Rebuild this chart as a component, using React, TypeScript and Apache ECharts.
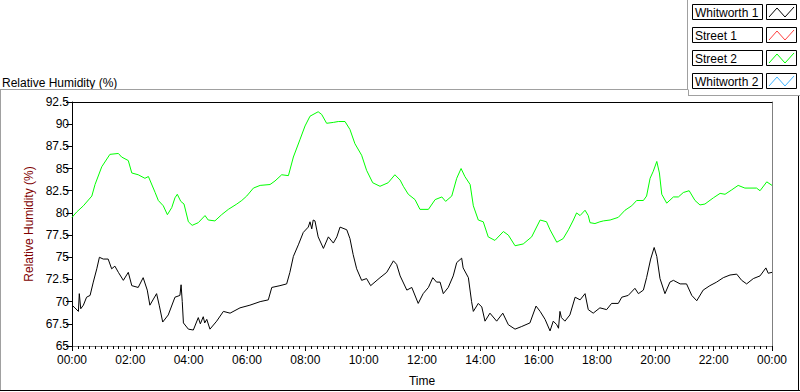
import React, { useEffect, useRef } from "react";
import * as echarts from "echarts";

// ---------- data (hour of day, relative humidity %) ----------
const seriesNames = ["Whitworth 1", "Street 1", "Street 2", "Whitworth 2"];
const seriesColors = ["#000000", "#ff4040", "#00ff00", "#40b4ff"];

const whitworth1: [number, number][] = [
  [0, 69.6], [0.1, 69.3], [0.22, 68.9], [0.25, 70.9], [0.3, 69.2], [0.39, 69.6], [0.5, 70.5],
  [0.62, 70.7], [0.73, 72.2], [0.85, 73.7], [0.94, 75.0], [1.07, 74.8], [1.24, 74.8], [1.36, 73.7],
  [1.47, 74.0], [1.59, 73.3], [1.76, 72.4], [1.93, 73.3], [2.05, 71.8], [2.27, 71.6], [2.44, 72.7],
  [2.58, 71.3], [2.67, 69.6], [2.9, 70.9], [2.99, 69.6], [3.11, 67.7], [3.3, 68.5], [3.53, 70.5],
  [3.7, 70.7], [3.74, 71.9], [3.78, 70.0], [3.82, 67.6], [3.99, 66.9], [4.16, 66.8], [4.33, 68.2],
  [4.4, 67.5], [4.5, 68.3], [4.55, 67.6],
  [4.62, 68.0], [4.73, 66.9], [4.96, 67.8], [5.19, 68.9], [5.42, 68.7], [5.76, 69.3], [6.1, 69.6],
  [6.45, 70.0], [6.73, 70.2], [6.85, 71.6], [7.13, 71.8], [7.36, 72.0], [7.47, 73.3], [7.59, 75.1],
  [7.76, 76.4], [7.93, 77.8], [8.1, 78.4], [8.16, 79.0], [8.22, 78.2], [8.27, 79.2], [8.33, 79.1], [8.44, 77.3], [8.62, 76.0],
  [8.79, 77.3], [8.96, 76.6], [9.08, 77.3], [9.19, 78.4], [9.42, 78.1], [9.53, 77.1], [9.64, 75.3],
  [9.76, 73.7], [9.93, 72.4], [10.1, 72.6], [10.24, 71.8], [10.56, 72.7], [10.79, 73.3], [11.02, 74.6],
  [11.13, 74.2], [11.25, 72.9], [11.48, 71.3], [11.65, 71.6], [11.87, 69.8], [12.04, 70.9], [12.22, 71.6],
  [12.37, 72.7], [12.5, 72.2], [12.62, 72.2], [12.73, 70.9], [12.9, 71.6], [13.07, 72.9], [13.19, 74.4],
  [13.36, 74.9], [13.41, 73.8], [13.59, 72.7], [13.7, 70.0], [13.76, 68.9], [13.93, 69.8], [14.05, 69.4],
  [14.16, 67.8], [14.33, 68.7], [14.56, 67.8], [14.77, 68.7], [14.96, 67.4], [15.19, 66.9], [15.42, 67.2],
  [15.7, 67.6], [15.91, 69.5], [16.05, 68.9], [16.22, 68.0], [16.39, 66.7], [16.5, 67.8], [16.62, 67.4],
  [16.68, 67.0], [16.73, 68.9], [16.78, 68.2], [16.9, 67.8], [17.07, 68.5], [17.25, 70.5], [17.42, 70.2], [17.59, 70.9], [17.7, 69.1],
  [17.87, 68.7], [18.1, 69.3], [18.33, 69.1], [18.5, 69.8], [18.73, 69.8], [18.85, 70.5], [19.07, 70.7],
  [19.3, 71.5], [19.42, 70.9], [19.59, 71.3], [19.7, 72.7], [19.84, 74.8], [19.96, 76.1], [20.05, 75.1],
  [20.16, 72.6], [20.33, 70.9], [20.5, 72.2], [20.62, 72.4], [20.85, 72.0], [21.07, 72.0], [21.25, 70.7],
  [21.42, 70.1], [21.64, 71.3], [21.87, 71.8], [22.1, 72.2], [22.33, 72.7], [22.56, 73.0], [22.79, 73.1],
  [22.96, 72.4], [23.13, 72.0], [23.36, 72.6], [23.59, 72.9], [23.79, 73.8], [23.87, 73.2], [24, 73.3],
];

const street2: [number, number][] = [
  [0, 79.5], [0.16, 80.1], [0.39, 80.8], [0.68, 81.9], [0.79, 83.2], [1.02, 85.2], [1.3, 86.6],
  [1.59, 86.7], [1.7, 86.3], [1.93, 85.9], [2.05, 84.5], [2.27, 84.3], [2.5, 83.9], [2.62, 84.1],
  [2.85, 82.3], [2.96, 81.4], [3.13, 80.8], [3.27, 79.8], [3.42, 80.6], [3.53, 81.7], [3.61, 82.1],
  [3.73, 81.3], [3.84, 81.0], [3.99, 79.0], [4.12, 78.6], [4.33, 78.9], [4.56, 79.7], [4.67, 79.2],
  [4.9, 79.1], [5.13, 79.8], [5.36, 80.4], [5.65, 81.0], [5.82, 81.4], [5.99, 81.9], [6.22, 82.8],
  [6.45, 83.1], [6.79, 83.2], [6.96, 83.6], [7.19, 84.3], [7.42, 84.2], [7.59, 86.3], [7.82, 88.3],
  [7.99, 89.8], [8.16, 90.9], [8.44, 91.4], [8.56, 91.1], [8.73, 90.1], [8.96, 90.2], [9.13, 90.3],
  [9.36, 90.3], [9.53, 89.4], [9.7, 87.8], [9.93, 86.5], [10.1, 84.8], [10.31, 83.4], [10.56, 83.0],
  [10.84, 83.4], [11.07, 84.3], [11.25, 83.7], [11.36, 83.0], [11.53, 82.1], [11.76, 81.5], [11.93, 80.4],
  [12.22, 80.4], [12.45, 81.5], [12.68, 81.8], [12.81, 81.3], [13.02, 81.9], [13.19, 83.9], [13.34, 85.0],
  [13.47, 84.1], [13.65, 83.2], [13.76, 80.8], [13.93, 79.2], [14.1, 79.0], [14.27, 77.3], [14.5, 76.9],
  [14.79, 77.9], [14.96, 77.5], [15.19, 76.3], [15.47, 76.5], [15.76, 77.3], [16.05, 79.2], [16.27, 79.0],
  [16.39, 78.1], [16.62, 76.7], [16.84, 77.1], [17.02, 78.1], [17.19, 79.2], [17.3, 80.0], [17.42, 79.7],
  [17.59, 80.3], [17.7, 79.7], [17.76, 78.9], [17.93, 78.8], [18.1, 79.0], [18.22, 79.1], [18.45, 79.2],
  [18.73, 79.5], [18.96, 80.3], [19.19, 80.8], [19.36, 81.4], [19.59, 81.4], [19.7, 81.9], [19.82, 83.9],
  [19.93, 84.7], [20.05, 85.8], [20.14, 84.5], [20.22, 82.1], [20.39, 81.1], [20.62, 81.8], [20.79, 81.8],
  [20.96, 82.3], [21.16, 82.5], [21.36, 81.4], [21.53, 80.9], [21.7, 81.0], [21.99, 81.7], [22.22, 82.2],
  [22.39, 82.1], [22.62, 82.6], [22.84, 83.1], [23.07, 82.8], [23.47, 82.8], [23.59, 82.5], [23.82, 83.5],
  [24, 83.1],
];

const street1: [number, number][] = [];
const whitworth2: [number, number][] = [];

const seriesData = [whitworth1, street1, street2, whitworth2];

const yMin = 65;
const yMax = 92.5;
const yStep = 2.5;
const xMin = 0;
const xMax = 24;
const xStep = 2;

const FONT = "Liberation Sans, Arial, sans-serif";

export default function App() {
  const ref = useRef<HTMLDivElement>(null);

  useEffect(() => {
    if (!ref.current) return;
    const chart = echarts.init(ref.current, undefined, { renderer: "svg" });

    const legendGraphics: any[] = [];
    seriesNames.forEach((name, i) => {
      const y = 4 + i * 23;
      legendGraphics.push({
        type: "rect",
        shape: { x: 692.5, y: y + 0.5, width: 70, height: 15 },
        style: { fill: "#fff", stroke: "#000", lineWidth: 1 },
      });
      legendGraphics.push({
        type: "text",
        x: 695,
        y: y + 8.5,
        style: { text: name, fill: "#000", font: `12px ${FONT}`, textVerticalAlign: "middle" },
      });
      legendGraphics.push({
        type: "rect",
        shape: { x: 766.5, y: y + 0.5, width: 30, height: 15 },
        style: { fill: "#fff", stroke: "#000", lineWidth: 1 },
      });
      legendGraphics.push({
        type: "polyline",
        shape: {
          points: [
            [769, y + 13],
            [777, y + 4],
            [785, y + 13],
            [794, y + 3],
          ],
        },
        style: { stroke: seriesColors[i], lineWidth: 1, fill: "none" },
      });
    });

    const option: any = {
      animation: false,
      backgroundColor: "#ffffff",
      textStyle: { fontFamily: FONT },
      grid: { left: 72, top: 102, width: 700, height: 250, containLabel: false },
      xAxis: [
        {
          type: "value",
          min: xMin,
          max: xMax,
          interval: xStep,
          position: "bottom",
          name: "Time",
          nameLocation: "middle",
          nameGap: 29,
          nameTextStyle: { color: "#000", fontSize: 12, fontFamily: FONT },
          axisLine: { show: true, onZero: false, lineStyle: { color: "#808080", width: 1 } },
          axisTick: { show: true, inside: false, length: 5, lineStyle: { color: "#000" } },
          minorTick: { show: true, splitNumber: 10, length: 3, lineStyle: { color: "#000" } },
          axisLabel: {
            color: "#000",
            fontSize: 12,
            fontFamily: FONT,
            margin: 8,
            formatter: (v: number) => String(v % 24).padStart(2, "0") + ":00",
          },
          splitLine: { show: false },
        },
        {
          type: "value",
          min: xMin,
          max: xMax,
          position: "top",
          axisLine: { show: true, onZero: false, lineStyle: { color: "#000", width: 1 } },
          axisTick: { show: false },
          axisLabel: { show: false },
          splitLine: { show: false },
        },
      ],
      yAxis: [
        {
          type: "value",
          min: yMin,
          max: yMax,
          interval: yStep,
          position: "left",
          name: "Relative Humidity (%)",
          nameLocation: "middle",
          nameGap: 33,
          nameRotate: 90,
          nameTextStyle: { color: "#800000", fontSize: 12, fontFamily: FONT },
          axisLine: { show: true, onZero: false, lineStyle: { color: "#000", width: 1 } },
          axisTick: { show: true, inside: false, length: 6, lineStyle: { color: "#000" } },
          axisLabel: { color: "#000", fontSize: 12, fontFamily: FONT, margin: 3 },
          splitLine: { show: false },
        },
        {
          type: "value",
          min: yMin,
          max: yMax,
          position: "right",
          axisLine: { show: true, onZero: false, lineStyle: { color: "#808080", width: 1 } },
          axisTick: { show: false },
          axisLabel: { show: false },
          splitLine: { show: false },
        },
      ],
      series: seriesNames.map((name, i) => ({
        name,
        type: "line",
        xAxisIndex: 0,
        yAxisIndex: 0,
        data: seriesData[i],
        showSymbol: false,
        symbol: "none",
        lineStyle: { color: seriesColors[i], width: 1 },
        itemStyle: { color: seriesColors[i] },
        z: i === 0 ? 3 : 2,
      })),
      graphic: [
        {
          type: "text",
          x: 2,
          y: 83,
          style: {
            text: "Relative Humidity (%)",
            fill: "#000",
            font: `12px ${FONT}`,
            textVerticalAlign: "middle",
          },
        },
        // outer panel frame
        { type: "line", shape: { x1: 0, y1: 89.5, x2: 688, y2: 89.5 }, style: { stroke: "#a0a0a0", lineWidth: 1 } },
        { type: "line", shape: { x1: 0.5, y1: 89.5, x2: 0.5, y2: 391 }, style: { stroke: "#a0a0a0", lineWidth: 1 } },
        { type: "line", shape: { x1: 0, y1: 390.5, x2: 800, y2: 390.5 }, style: { stroke: "#000", lineWidth: 1 } },
        { type: "line", shape: { x1: 798.5, y1: 95, x2: 798.5, y2: 391 }, style: { stroke: "#000", lineWidth: 1 } },
        // legend panel frame
        { type: "line", shape: { x1: 687.5, y1: 0, x2: 687.5, y2: 89.5 }, style: { stroke: "#a0a0a0", lineWidth: 1 } },
        { type: "line", shape: { x1: 688.5, y1: 89.5, x2: 688.5, y2: 95.5 }, style: { stroke: "#a0a0a0", lineWidth: 1 } },
        { type: "line", shape: { x1: 688, y1: 95.5, x2: 800, y2: 95.5 }, style: { stroke: "#a0a0a0", lineWidth: 1 } },
        ...legendGraphics,
      ],
    };

    chart.setOption(option);
    return () => chart.dispose();
  }, []);

  return (
    <div
      ref={ref}
      style={{ position: "fixed", left: 0, top: 0, width: 800, height: 392, background: "#fff" }}
    />
  );
}
